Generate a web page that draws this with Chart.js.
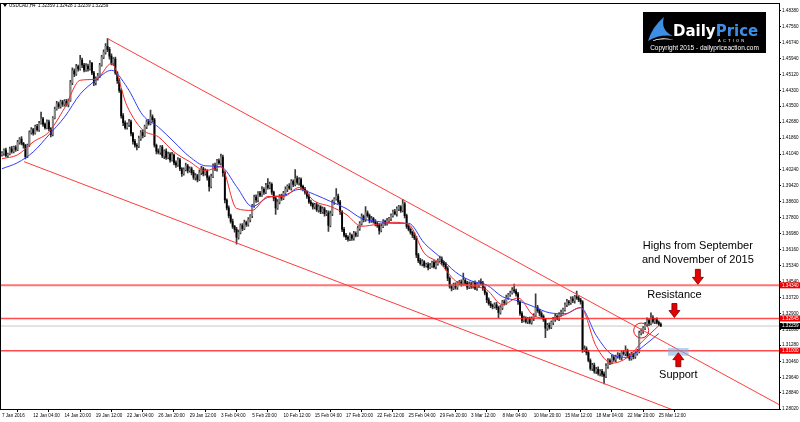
<!DOCTYPE html>
<html>
<head>
<meta charset="utf-8">
<script src="https://cdn.jsdelivr.net/npm/chart.js@4.4.1/dist/chart.umd.min.js"></script>
<style>
  html, body { margin: 0; padding: 0; background: #fff; }
  #wrap { width: 800px; height: 422px; position: relative; }
</style>
</head>
<body>
<div id="wrap"><canvas id="chart"></canvas></div>
<script>
// USDCAD H4, 7 Jan - 25 Mar 2016
const symbolInfo = 'USDCAD,H4  1.32359 1.32428 1.32239 1.32259';
const firstOpen = 1.4100;

// close of every H4 bar, 16 bars per row (one row per time label)
const closes = [
  1.4110,1.4125,1.4098,1.4105,1.4132,1.4118,1.4140,1.4128,1.4165,1.4182,1.4160,1.4150,1.4092,1.4150,1.4215,1.4230,
  1.4212,1.4245,1.4230,1.4262,1.4285,1.4258,1.4240,1.4270,1.4235,1.4205,1.4290,1.4335,1.4362,1.4348,1.4372,1.4360,
  1.4375,1.4358,1.4380,1.4470,1.4530,1.4515,1.4552,1.4540,1.4585,1.4560,1.4535,1.4555,1.4540,1.4568,1.4520,1.4470,
  1.4490,1.4505,1.4560,1.4600,1.4625,1.4655,1.4640,1.4605,1.4570,1.4590,1.4520,1.4480,1.4430,1.4300,1.4265,1.4240,
  1.4255,1.4270,1.4210,1.4170,1.4150,1.4145,1.4185,1.4215,1.4200,1.4245,1.4270,1.4260,1.4295,1.4280,1.4150,1.4120,
  1.4115,1.4140,1.4095,1.4120,1.4088,1.4105,1.4075,1.4100,1.4060,1.4050,1.4075,1.4030,1.4005,1.4025,1.4045,1.4020,
  1.4030,1.4010,1.3985,1.3995,1.3975,1.4010,1.4030,1.4005,1.4020,1.3985,1.3940,1.3990,1.4045,1.4030,1.4070,1.4060,
  1.4090,1.4010,1.3870,1.3830,1.3790,1.3760,1.3735,1.3720,1.3680,1.3705,1.3740,1.3725,1.3755,1.3745,1.3770,1.3790,
  1.3840,1.3885,1.3870,1.3905,1.3895,1.3925,1.3910,1.3945,1.3935,1.3950,1.3910,1.3880,1.3830,1.3860,1.3890,1.3880,
  1.3905,1.3925,1.3940,1.3930,1.3965,1.3950,1.3980,1.3960,1.3975,1.3940,1.3925,1.3910,1.3890,1.3860,1.3850,1.3835,
  1.3845,1.3820,1.3835,1.3810,1.3825,1.3800,1.3805,1.3740,1.3800,1.3860,1.3875,1.3890,1.3860,1.3810,1.3720,1.3690,
  1.3680,1.3670,1.3690,1.3675,1.3700,1.3690,1.3725,1.3750,1.3785,1.3770,1.3805,1.3790,1.3765,1.3775,1.3760,1.3750,
  1.3740,1.3715,1.3735,1.3760,1.3750,1.3765,1.3775,1.3790,1.3810,1.3800,1.3825,1.3835,1.3815,1.3850,1.3790,1.3735,
  1.3720,1.3705,1.3690,1.3675,1.3590,1.3560,1.3545,1.3555,1.3535,1.3540,1.3525,1.3535,1.3550,1.3530,1.3545,1.3560,
  1.3570,1.3550,1.3540,1.3520,1.3470,1.3430,1.3420,1.3435,1.3425,1.3445,1.3450,1.3440,1.3460,1.3445,1.3425,1.3440,
  1.3430,1.3445,1.3420,1.3435,1.3450,1.3445,1.3420,1.3395,1.3360,1.3340,1.3330,1.3325,1.3335,1.3320,1.3295,1.3320,
  1.3350,1.3345,1.3372,1.3385,1.3395,1.3410,1.3405,1.3390,1.3350,1.3290,1.3255,1.3265,1.3250,1.3260,1.3245,1.3265,
  1.3280,1.3320,1.3305,1.3290,1.3275,1.3260,1.3215,1.3230,1.3220,1.3245,1.3260,1.3275,1.3265,1.3285,1.3295,1.3310,
  1.3335,1.3350,1.3345,1.3365,1.3355,1.3375,1.3370,1.3360,1.3350,1.3105,1.3110,1.3090,1.3050,1.3010,1.3025,1.2995,
  1.3005,1.2985,1.2995,1.2980,1.2970,1.3020,1.3050,1.3040,1.3065,1.3055,1.3070,1.3078,1.3065,1.3090,1.3085,1.3100,
  1.3075,1.3060,1.3080,1.3070,1.3085,1.3095,1.3190,1.3200,1.3215,1.3235,1.3254,1.3240,1.3268,1.3250,1.3258,1.3245,1.3236,1.32259
];

// wick above / below the body, in pips
const upPips = [
  8,6,10,5,9,12,6,8,10,7,12,5,4,6,8,10,
  6,8,12,10,34,8,6,10,8,5,6,10,12,8,9,7,
  8,10,6,12,15,10,12,8,25,10,8,12,10,14,6,8,
  10,12,8,10,12,15,40,10,12,8,10,6,10,8,12,10,
  10,12,8,6,10,8,12,10,14,8,10,12,35,10,8,6,
  12,8,10,6,12,10,8,14,6,10,12,8,6,10,14,8,
  10,8,12,10,6,14,12,8,10,6,8,12,10,14,8,10,
  15,10,8,6,10,8,12,6,10,12,8,10,12,8,10,6,
  8,10,12,8,10,14,8,10,35,12,8,6,10,12,8,10,
  10,12,8,14,10,8,45,12,10,8,6,10,8,12,10,6,
  8,12,10,6,10,8,12,10,14,10,8,38,10,8,6,10,
  10,8,12,6,10,8,12,10,14,8,32,10,8,12,6,10,
  8,10,12,10,8,12,6,10,8,12,10,8,6,23,10,8,
  10,8,6,12,10,8,12,10,6,8,10,12,8,10,12,10,
  14,10,8,12,10,8,6,10,12,8,10,12,37,8,10,12,
  10,8,12,10,8,17,10,8,6,10,12,8,10,12,8,10,
  8,10,12,8,10,12,31,10,8,6,10,12,8,10,12,8,
  10,71,12,8,10,8,6,10,12,8,10,12,8,10,12,8,
  10,12,8,10,12,8,30,10,8,6,15,10,12,8,10,12,
  10,12,8,10,12,14,10,8,12,10,8,12,10,8,12,25,
  8,10,12,8,10,12,10,12,8,10,14,10,26,12,8,10,7,7
];
const dnPips = [
  6,12,8,10,5,8,7,9,6,10,8,15,12,5,6,8,
  10,6,8,9,5,12,8,6,10,12,8,5,6,10,8,12,
  10,8,12,6,10,15,8,12,6,14,10,8,12,6,10,15,
  12,8,10,6,8,10,12,15,10,12,8,14,10,12,15,8,
  8,10,12,14,10,19,8,10,12,6,10,8,6,12,10,15,
  10,12,8,14,10,8,12,6,10,14,8,10,15,8,6,12,
  8,12,10,14,12,6,10,12,8,14,25,8,6,10,12,8,
  12,20,15,10,12,8,10,14,35,10,8,12,6,10,8,12,
  10,8,12,10,8,6,12,8,10,8,12,14,33,8,10,12,
  8,10,12,6,10,12,8,10,14,12,8,10,12,8,10,12,
  10,8,12,10,8,12,10,30,8,10,12,6,10,14,12,8,
  12,10,8,12,10,8,6,10,8,12,10,8,12,10,8,12,
  10,20,8,6,10,8,12,10,8,6,12,10,8,6,12,10,
  8,10,12,8,14,10,8,12,10,8,12,6,10,8,12,8,
  8,12,10,8,12,10,14,8,10,12,8,10,6,10,12,8,
  12,10,8,12,10,8,12,10,14,8,10,12,8,10,26,8,
  10,12,8,10,8,6,10,12,14,10,12,8,10,12,8,10,
  12,8,10,12,8,10,48,12,10,8,12,10,8,12,10,8,
  8,10,12,8,10,12,8,10,12,14,10,12,8,10,12,10,
  12,10,14,12,40,8,10,12,8,10,12,8,10,12,8,10,
  12,10,8,12,10,8,6,10,12,8,10,12,8,10,12,8,8,2
];

// time labels, one every 16 bars
const labelStep = 16;
const timeLabels = [
  '7 Jan 2016', '12 Jan 04:00', '14 Jan 20:00', '19 Jan 12:00', '22 Jan 04:00', '26 Jan 20:00',
  '29 Jan 12:00', '3 Feb 04:00', '5 Feb 20:00', '10 Feb 12:00', '15 Feb 04:00', '17 Feb 20:00',
  '22 Feb 12:00', '25 Feb 04:00', '29 Feb 20:00', '3 Mar 12:00', '8 Mar 04:00', '10 Mar 20:00',
  '15 Mar 12:00', '18 Mar 04:00', '22 Mar 20:00', '25 Mar 12:00'
];

const priceTicks = [
  1.48380, 1.47560, 1.46740, 1.45940, 1.45120, 1.44300, 1.43500, 1.42680, 1.41860,
  1.41040, 1.40240, 1.39420, 1.38600, 1.37800, 1.36980, 1.36160, 1.35340, 1.34540,
  1.33720, 1.32900, 1.32080, 1.31280, 1.30460, 1.29640, 1.28840, 1.28020
];

// moving averages, read every 8 bars
const maStep = 8;
const maFast = [
  1.4081, 1.4101, 1.4167, 1.4218, 1.4340, 1.4482, 1.4487, 1.4568, 1.4350, 1.4228, 1.4193,
  1.4116, 1.4066, 1.4020, 1.4040, 1.3827, 1.3817, 1.3888, 1.3888, 1.3934, 1.3863, 1.3837,
  1.3797, 1.3736, 1.3746, 1.3756, 1.3746, 1.3599, 1.3548, 1.3457, 1.3431, 1.3411, 1.3335,
  1.3370, 1.3279, 1.3264, 1.3284, 1.3320, 1.3122, 1.3036, 1.3066, 1.3152, 1.3228
];
const maSlow = [
  1.4030, 1.4061, 1.4116, 1.4203, 1.4294, 1.4411, 1.4482, 1.4533, 1.4446, 1.4304, 1.4243,
  1.4167, 1.4091, 1.4045, 1.4040, 1.3939, 1.3837, 1.3883, 1.3893, 1.3924, 1.3898, 1.3863,
  1.3827, 1.3776, 1.3761, 1.3751, 1.3751, 1.3650, 1.3579, 1.3502, 1.3457, 1.3436, 1.3376,
  1.3355, 1.3325, 1.3294, 1.3289, 1.3320, 1.3178, 1.3081, 1.3066, 1.3122, 1.3188
];

// drawn objects: levels and channel (bar index, price)
const levelPrices = [1.34340, 1.32645, 1.31000];
const lastPrice = 1.32259;
const channelTop = [[54, 1.4695], [398, 1.2822]];
const channelBottom = [[11.3, 1.4066], [347, 1.2783]];
const circleAt = [327, 1.3203];
const supportZone = [346, 1.3076, 1.3112];

const FONT = '"Liberation Sans", Arial, sans-serif';

// build OHLC, open = previous close
const bars = closes.map((c, i) => {
  const o = i === 0 ? firstOpen : closes[i - 1];
  return {
    i, o, c,
    h: Math.max(o, c) + upPips[i] / 10000,
    l: Math.min(o, c) - dnPips[i] / 10000
  };
});

const xMin = -0.5, xMax = 397.5;

function hLine(price, color, width, order) {
  return {
    type: 'line',
    data: [{ x: xMin, y: price }, { x: xMax, y: price }],
    borderColor: color, borderWidth: width, pointRadius: 0, order
  };
}

function drawArrow(ctx, cx, tip, len, dir) {
  // dir 1 = pointing down, -1 = pointing up
  const hw = 5.5, sw = 2.5, hl = 7;
  ctx.beginPath();
  ctx.moveTo(cx - sw, tip - dir * len);
  ctx.lineTo(cx + sw, tip - dir * len);
  ctx.lineTo(cx + sw, tip - dir * hl);
  ctx.lineTo(cx + hw, tip - dir * hl);
  ctx.lineTo(cx, tip);
  ctx.lineTo(cx - hw, tip - dir * hl);
  ctx.lineTo(cx - sw, tip - dir * hl);
  ctx.closePath();
  ctx.fillStyle = '#e80000';
  ctx.fill();
  ctx.lineWidth = 0.8;
  ctx.strokeStyle = '#700000';
  ctx.stroke();
}

const decorations = {
  id: 'decorations',
  afterDatasetsDraw(chart) {
    const { ctx, scales: { x, y } } = chart;
    ctx.save();

    // notes
    ctx.font = '11px ' + FONT;
    ctx.textAlign = 'center';
    ctx.textBaseline = 'middle';
    const ax = x.getPixelForValue(356);
    const t1 = y.getPixelForValue(levelPrices[0]) - 1;
    drawArrow(ctx, ax, t1, 15, 1);
    ctx.fillStyle = '#000';
    ctx.fillText('Highs from September', ax, t1 - 38);
    ctx.fillText('and November of 2015', ax, t1 - 24);

    const rx = x.getPixelForValue(344);
    const t2 = y.getPixelForValue(levelPrices[1]) - 1;
    drawArrow(ctx, rx, t2, 14, 1);
    ctx.fillStyle = '#000';
    ctx.fillText('Resistance', rx, t2 - 23);

    const sx = x.getPixelForValue(346);
    const t3 = y.getPixelForValue(levelPrices[2]) + 2;
    drawArrow(ctx, sx, t3, 14, -1);
    ctx.fillStyle = '#000';
    ctx.fillText('Support', sx, t3 + 22);
    ctx.restore();
  },
  afterDraw(chart) {
    const { ctx, chartArea: a, scales: { y } } = chart;
    ctx.save();
    // frame
    ctx.strokeStyle = '#000';
    ctx.lineWidth = 1;
    ctx.strokeRect(Math.round(a.left) - 0.5, Math.round(a.top) - 0.5,
      Math.round(a.right - a.left) + 1, Math.round(a.bottom - a.top) + 1);

    // price boxes on the axis
    ctx.font = '4.6px ' + FONT;
    ctx.textAlign = 'left';
    ctx.textBaseline = 'middle';
    const box = (p, bg) => {
      const py = y.getPixelForValue(p);
      ctx.fillStyle = bg;
      ctx.fillRect(a.right + 1, py - 3, chart.width - a.right - 1, 6);
      ctx.fillStyle = '#fff';
      ctx.fillText(p.toFixed(5), a.right + 3, py);
    };
    levelPrices.forEach(p => box(p, '#f00000'));
    box(lastPrice, '#000');

    // symbol line
    ctx.fillStyle = '#000';
    ctx.beginPath();
    ctx.moveTo(3, 4); ctx.lineTo(7, 4); ctx.lineTo(5, 7); ctx.closePath();
    ctx.fill();
    ctx.fillText(symbolInfo, 9, 5.5);

    // logo
    ctx.fillStyle = '#000';
    ctx.fillRect(643, 12, 123, 41);
    ctx.fillStyle = '#3d8fe6';
    ctx.beginPath();
    ctx.moveTo(648, 41);
    ctx.quadraticCurveTo(652, 27, 664, 17);
    ctx.quadraticCurveTo(660, 30, 673, 36);
    ctx.quadraticCurveTo(660, 34, 648, 41);
    ctx.fill();
    ctx.fillStyle = '#fff';
    ctx.beginPath();
    ctx.moveTo(651, 41);
    ctx.quadraticCurveTo(662, 36, 674, 40);
    ctx.quadraticCurveTo(662, 38, 651, 41);
    ctx.fill();
    ctx.font = 'bold 15px "DejaVu Sans", sans-serif';
    ctx.textBaseline = 'alphabetic';
    ctx.fillStyle = '#fff';
    ctx.fillText('Daily', 673, 36);
    const dw = ctx.measureText('Daily').width;
    ctx.fillStyle = '#3d8fe6';
    ctx.fillText('Price', 673 + dw, 36);
    ctx.font = '4px ' + FONT;
    ctx.fillStyle = '#fff';
    ctx.fillText('A  C  T  I  O  N', 718, 42);
    ctx.font = '6.5px ' + FONT;
    ctx.textAlign = 'center';
    ctx.fillText('Copyright 2015 - dailypriceaction.com', 704.5, 50);
    ctx.restore();
  }
};

new Chart(document.getElementById('chart'), {
  type: 'bar',
  data: {
    datasets: [
      {
        label: 'wicks',
        data: bars.map(b => ({ x: b.i, y: [b.l, b.h] })),
        backgroundColor: '#3a3a3a',
        barThickness: 1, grouped: false, order: 10
      },
      {
        label: 'bodies',
        data: bars.map(b => ({ x: b.i, y: [b.o, b.c] })),
        backgroundColor: bars.map(b => b.c >= b.o ? '#8a8a8a' : '#000'),
        barThickness: 1.2, minBarLength: 1, grouped: false, order: 9
      },
      {
        type: 'line', label: 'slow MA',
        data: maSlow.map((v, k) => ({ x: k * maStep, y: v })),
        borderColor: 'rgb(50,60,245)', borderWidth: 1, pointRadius: 0,
        cubicInterpolationMode: 'monotone', order: 6
      },
      {
        type: 'line', label: 'fast MA',
        data: maFast.map((v, k) => ({ x: k * maStep, y: v })),
        borderColor: 'rgb(245,40,40)', borderWidth: 1, pointRadius: 0,
        cubicInterpolationMode: 'monotone', order: 5
      },
      hLine(lastPrice, '#c8c8c8', 1, 11),
      hLine(levelPrices[0], 'rgba(255,70,70,0.75)', 2, 4),
      hLine(levelPrices[1], 'rgba(255,30,30,0.8)', 1.5, 4),
      hLine(levelPrices[2], 'rgba(255,30,30,0.8)', 1.5, 4),
      {
        type: 'line', label: 'channel top',
        data: channelTop.map(p => ({ x: p[0], y: p[1] })),
        borderColor: 'rgb(255,60,60)', borderWidth: 1, pointRadius: 0, order: 4
      },
      {
        type: 'line', label: 'channel bottom',
        data: channelBottom.map(p => ({ x: p[0], y: p[1] })),
        borderColor: 'rgb(255,60,60)', borderWidth: 1, pointRadius: 0, order: 4
      },
      {
        label: 'support zone',
        data: [{ x: supportZone[0], y: [supportZone[1], supportZone[2]] }],
        backgroundColor: 'rgba(120,175,230,0.55)',
        barThickness: 20, grouped: false, order: 3
      },
      {
        type: 'line', label: 'circle',
        data: [{ x: circleAt[0], y: circleAt[1] }],
        showLine: false, pointRadius: 7.5, pointBorderWidth: 1,
        pointBorderColor: 'rgb(230,20,20)', pointBackgroundColor: 'rgba(0,0,0,0)', order: 1
      }
    ]
  },
  options: {
    responsive: true,
    maintainAspectRatio: false,
    animation: false,
    events: [],
    layout: { autoPadding: false, padding: { left: 1, top: 1, right: 0, bottom: 0 } },
    plugins: { legend: { display: false }, tooltip: { enabled: false } },
    scales: {
      x: {
        type: 'linear', min: xMin, max: xMax, offset: false,
        afterBuildTicks: s => { s.ticks = timeLabels.map((t, k) => ({ value: k * labelStep })); },
        afterFit: s => { s.height = 13; },
        ticks: {
          autoSkip: false, maxRotation: 0, align: 'start', padding: 1, color: '#000',
          font: { family: FONT, size: 4.6 },
          callback: v => timeLabels[Math.round(v / labelStep)]
        },
        grid: { drawOnChartArea: false, drawTicks: true, tickLength: 3, color: '#000' },
        border: { display: true, color: '#000' }
      },
      y: {
        position: 'right', min: 1.2802, max: 1.4873,
        afterBuildTicks: s => { s.ticks = priceTicks.map(v => ({ value: v })); },
        afterFit: s => { s.width = 21; },
        ticks: {
          autoSkip: false, padding: 1, color: '#000',
          font: { family: FONT, size: 4.6 },
          callback: v => v.toFixed(5)
        },
        grid: { drawOnChartArea: false, drawTicks: true, tickLength: 2, color: '#000' },
        border: { display: true, color: '#000' }
      }
    }
  },
  plugins: [decorations]
});
</script>
</body>
</html>
